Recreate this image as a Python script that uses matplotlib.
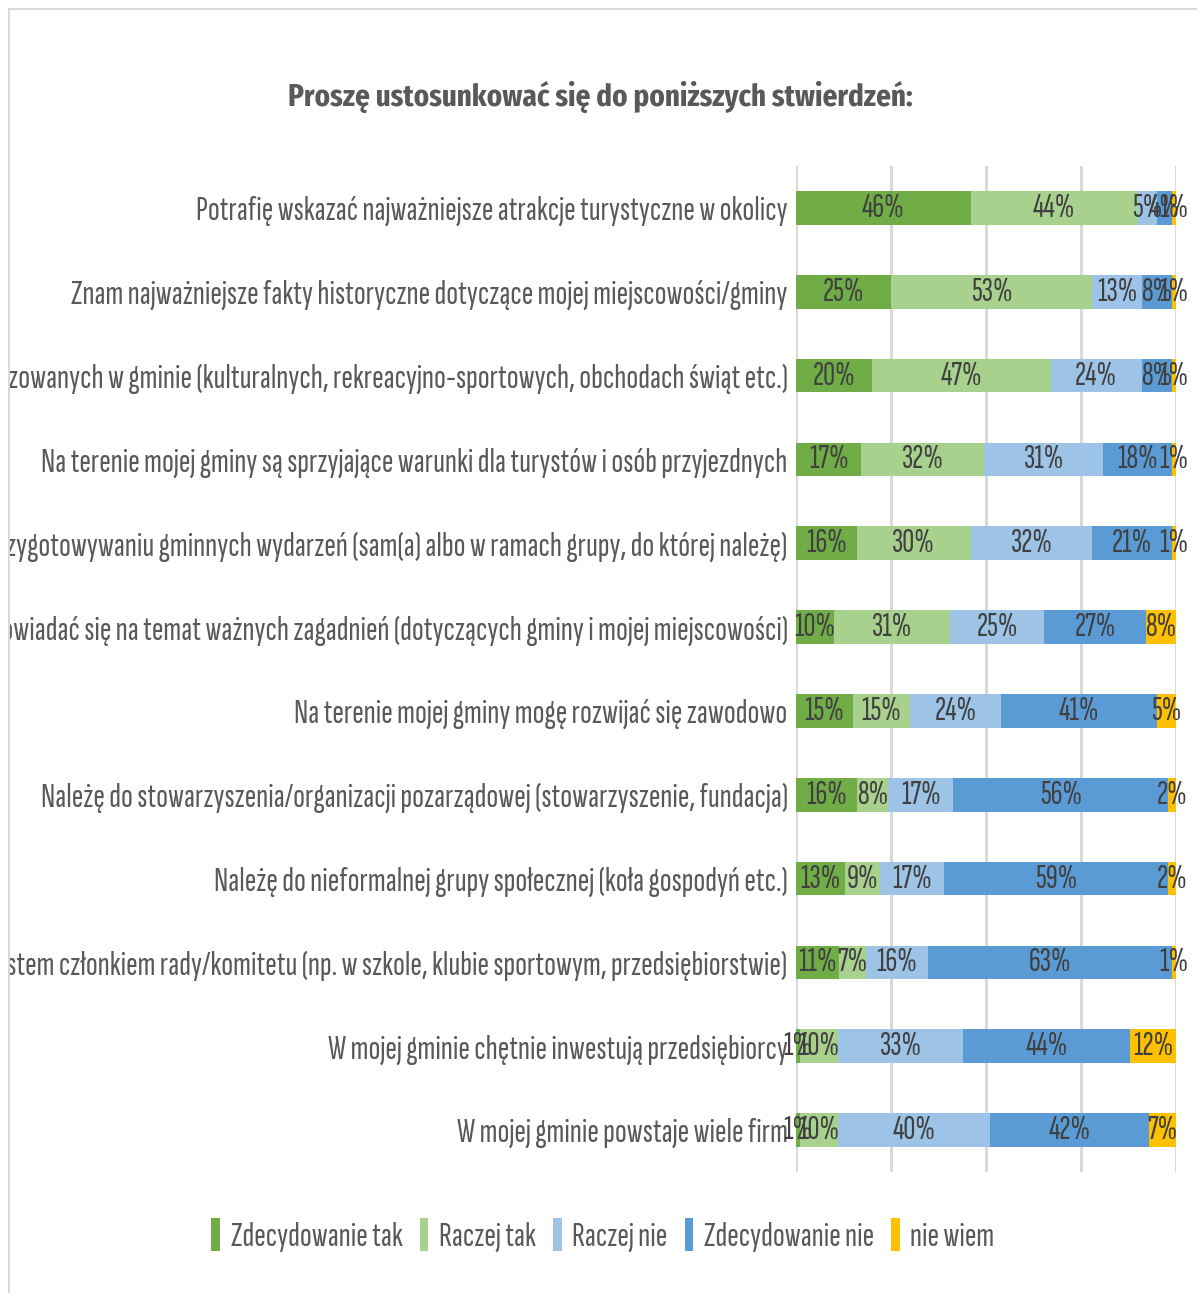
import matplotlib
matplotlib.use("Agg")
import matplotlib.pyplot as plt
from matplotlib.patches import Rectangle
import numpy as np

plt.rcParams['font.family'] = ['Sofia Sans Extra Condensed', 'DejaVu Sans']

statements = [
    "Potrafię wskazać najważniejsze atrakcje turystyczne w okolicy",
    "Znam najważniejsze fakty historyczne dotyczące mojej miejscowości/gminy",
    "Uczestniczę w wydarzeniach organizowanych w gminie (kulturalnych, rekreacyjno-sportowych, obchodach świąt etc.)",
    "Na terenie mojej gminy są sprzyjające warunki dla turystów i osób przyjezdnych",
    "Uczestniczę w przygotowywaniu gminnych wydarzeń (sam(a) albo w ramach grupy, do której należę)",
    "Mam możliwość wypowiadać się na temat ważnych zagadnień (dotyczących gminy i mojej miejscowości)",
    "Na terenie mojej gminy mogę rozwijać się zawodowo",
    "Należę do stowarzyszenia/organizacji pozarządowej (stowarzyszenie, fundacja)",
    "Należę do nieformalnej grupy społecznej (koła gospodyń etc.)",
    "Jestem członkiem rady/komitetu (np. w szkole, klubie sportowym, przedsiębiorstwie)",
    "W mojej gminie chętnie inwestują przedsiębiorcy",
    "W mojej gminie powstaje wiele firm",
]

series_names = ["Zdecydowanie tak", "Raczej tak", "Raczej nie", "Zdecydowanie nie", "nie wiem"]

zdecydowanie_tak = [46, 25, 20, 17, 16, 10, 15, 16, 13, 11, 1, 1]
raczej_tak = [44, 53, 47, 32, 30, 31, 15, 8, 9, 7, 10, 10]
raczej_nie = [5, 13, 24, 31, 32, 25, 24, 17, 17, 16, 33, 40]
zdecydowanie_nie = [4, 8, 8, 18, 21, 27, 41, 56, 59, 63, 44, 42]
nie_wiem = [1, 1, 1, 1, 1, 8, 5, 2, 2, 1, 12, 7]

colors = ["#70AD47", "#A9D18E", "#9DC3E6", "#5B9BD5", "#FFC000"]

W, H = 1197, 1293
fig = plt.figure(figsize=(W / 100, H / 100), dpi=100)
ax = fig.add_axes([796 / W, 1 - 1172 / H, 380 / W, (1172 - 166) / H])

data = np.array([zdecydowanie_tak, raczej_tak, raczej_nie, zdecydowanie_nie, nie_wiem], dtype=float)
totals = data.sum(axis=0)
y = np.arange(len(statements))
left = np.zeros(len(statements))

for vals, name, col in zip(data, series_names, colors):
    widths = vals / totals * 100
    ax.barh(y, widths, left=left, height=0.4, color=col, label=name, zorder=2)
    for yi, l, w, v in zip(y, left, widths, vals):
        ax.text(l + w / 2, yi, f"{int(v)}%", ha='center', va='center',
                fontsize=24, color='#404040', zorder=3)
    left += widths

ax.set_xlim(0, 100)
ax.set_ylim(len(statements) - 0.5, -0.5)
ax.set_xticks([0, 25, 50, 75, 100])
ax.set_xticklabels([])
ax.grid(axis='x', color='#D9D9D9', linewidth=2.2)
ax.set_axisbelow(True)
ax.set_yticks(y)
ax.set_yticklabels(statements, fontsize=25, color='#595959')
ax.tick_params(length=0, pad=6)
for s in ax.spines.values():
    s.set_visible(False)

fig.text(600 / W, 1 - 97 / H, "Proszę ustosunkować się do poniższych stwierdzeń:",
         ha='center', va='center', fontsize=22.7, fontweight='bold', color='#595959',
         family=['Fira Sans Extra Condensed', 'DejaVu Sans'])

fig.legend(loc='center', bbox_to_anchor=(603 / W, 1 - 1235 / H), ncol=5, frameon=False,
           fontsize=25, labelcolor='#595959', handlelength=0.25, handleheight=1.1,
           handletextpad=0.3, columnspacing=0.5)

# chart area border, labels cut at the left edge
fig.patches.append(Rectangle((0, 0), 9 / W, 1, transform=fig.transFigure,
                             facecolor='white', edgecolor='none', zorder=10))
fig.lines.append(plt.Line2D([9 / W, 9 / W], [0, 1 - 9 / H], transform=fig.transFigure,
                            color='#D9D9D9', linewidth=1.5, zorder=11))
fig.lines.append(plt.Line2D([9 / W, 1], [1 - 9 / H, 1 - 9 / H], transform=fig.transFigure,
                            color='#D9D9D9', linewidth=1.5, zorder=11))

fig.savefig("out.png", dpi=100)
